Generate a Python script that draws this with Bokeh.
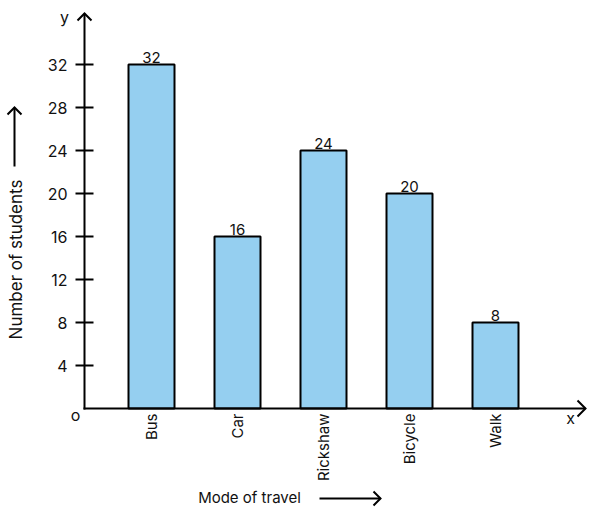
import math
from bokeh.plotting import figure
from bokeh.models import Range1d, FixedTicker, ColumnDataSource
from bokeh.core.properties import value
from bokeh.embed import file_html
from bokeh.resources import INLINE

# ---- data ----
modes = ["Bus", "Car", "Rickshaw", "Bicycle", "Walk"]
students = [32, 16, 24, 20, 8]
y_ticks = [4, 8, 12, 16, 20, 24, 28, 32]
x_title = "Mode of travel"
y_title = "Number of students"

# ---- layout (canvas pixels) ----
W, H = 599, 517
PX_X = 86.0      # pixels per category step
PX_Y = 10.75     # pixels per student
ORIGIN_PX = (84, 408)   # where the axes cross
FIRST_BAR_PX = 151      # centre of first category
xs = list(range(1, len(modes) + 1))

x_start = 1 - FIRST_BAR_PX / PX_X
x_end = x_start + W / PX_X
y_end = ORIGIN_PX[1] / PX_Y
y_start = y_end - H / PX_Y

def dx(px):
    return x_start + px / PX_X

def dy(py):
    return (ORIGIN_PX[1] - py) / PX_Y

FONT = "Inter"
INK = "#111111"
BAR = "#95CFF0"

src = ColumnDataSource(dict(x=xs, y=students, lab=[str(v) for v in students]))

p = figure(width=W, height=H, output_backend="svg", toolbar_location=None,
           x_range=Range1d(x_start, x_end), y_range=Range1d(y_start, y_end),
           min_border=0, min_border_left=0, min_border_right=0,
           min_border_top=0, min_border_bottom=0)
p.outline_line_color = None
p.grid.visible = False
p.background_fill_color = "white"
p.border_fill_color = "white"

p.vbar(x="x", top="y", width=46 / PX_X, bottom=0, source=src,
       fill_color=BAR, line_color="black", line_width=2)
p.text(x="x", y="y", text="lab", source=src, text_align="center", text_baseline="bottom",
       y_offset=-2, text_font=value(FONT), text_font_size="15px", text_color=INK)

# y axis (drawn at the origin, inside the frame)
ya = p.yaxis[0]
ya.fixed_location = dx(ORIGIN_PX[0])
ya.ticker = FixedTicker(ticks=y_ticks)
ya.axis_line_color = None
ya.major_tick_in = 9
ya.major_tick_out = 9
ya.major_tick_line_width = 2
ya.major_tick_line_color = "black"
ya.minor_tick_line_color = None
ya.major_label_standoff = 8
ya.major_label_text_font = FONT
ya.major_label_text_font_size = "16px"
ya.major_label_text_color = INK

# x axis
xa = p.xaxis[0]
xa.fixed_location = 0
xa.ticker = FixedTicker(ticks=xs)
xa.major_label_overrides = {i: m for i, m in zip(xs, modes)}
xa.major_label_orientation = math.pi / 2
xa.axis_line_color = None
xa.major_tick_in = 0
xa.major_tick_out = 0
xa.minor_tick_line_color = None
xa.major_label_standoff = 5
xa.major_label_text_font = FONT
xa.major_label_text_font_size = "15px"
xa.major_label_text_color = INK

# arrows: shaft + open head, given in canvas pixels
def arrow(x0, y0, x1, y1, head_len=7, head_half=7):
    L = math.hypot(x1 - x0, y1 - y0)
    ux, uy = (x1 - x0) / L, (y1 - y0) / L
    nx, ny = -uy, ux
    bx, by = x1 - ux * head_len, y1 - uy * head_len
    xs_ = [[dx(x0), dx(x1)], [dx(bx + nx * head_half), dx(x1), dx(bx - nx * head_half)]]
    ys_ = [[dy(y0), dy(y1)], [dy(by + ny * head_half), dy(y1), dy(by - ny * head_half)]]
    p.multi_line(xs=xs_, ys=ys_, line_color="black", line_width=2,
                 line_join="miter", line_cap="butt")

arrow(ORIGIN_PX[0], ORIGIN_PX[1] + 1, ORIGIN_PX[0], 13, head_len=7, head_half=7)
arrow(ORIGIN_PX[0] - 1, ORIGIN_PX[1], 585, ORIGIN_PX[1], head_len=8, head_half=8)
arrow(14, 166, 14, 107, head_len=7, head_half=7)
arrow(319, 498, 380, 498, head_len=7, head_half=7)

def lab(text, px, py, align="center", base="middle", angle=0, size="14px"):
    p.text(x=[dx(px)], y=[dy(py)], text=[text], text_align=align, text_baseline=base,
           angle=angle, text_font=value(FONT), text_font_size=size, text_color=INK)

lab("y", 64, 16, size="16px")
lab("x", 570, 417, size="16px")
lab("o", 75, 414, size="16px")
lab(y_title, 15, 259, angle=math.pi / 2, size="17px")
lab(x_title, 249, 497, size="15px")

open("out.html", "w").write(file_html(p, INLINE))
